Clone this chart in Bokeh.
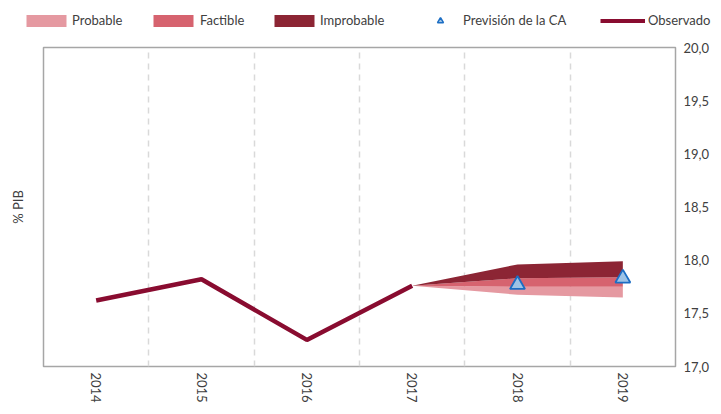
from bokeh.plotting import figure
from bokeh.models import (Legend, LegendItem, LinearAxis, FixedTicker,
                          CustomJSTickFormatter, Range1d)
from bokeh.embed import file_html
from bokeh.resources import INLINE

# ---- data ----
years = [2014, 2015, 2016, 2017, 2018, 2019]
obs_years = [2014, 2015, 2016, 2017]
observed = [17.62, 17.82, 17.25, 17.76]

fan_years = [2017, 2018, 2019]
fan_low = [17.76, 17.675, 17.65]
probable_hi = [17.76, 17.75, 17.75]
factible_hi = [17.76, 17.83, 17.84]
improbable_hi = [17.76, 17.96, 17.99]

ca_years = [2018, 2019]
ca_forecast = [17.77, 17.83]

y_ticks = [17.0, 17.5, 18.0, 18.5, 19.0, 19.5, 20.0]

FONT = "Lato"
TXT = "#404040"
C_PROB, C_FACT, C_IMPR = "#E599A1", "#D6636F", "#8C2534"
C_OBS = "#890C30"
C_TRI_FILL, C_TRI_LINE = "#9DC3E6", "#1C6EC4"

W = 713
LEG_H = 34

# ---------- legend strip (series drawn off-range, only their legend shows) ----------
leg = figure(width=W, height=LEG_H, x_range=Range1d(0, 1), y_range=Range1d(0, 1),
             output_backend="svg", toolbar_location=None,
             x_axis_type=None, y_axis_type=None,
             min_border_left=0, min_border_right=0,
             min_border_top=0, min_border_bottom=0)
leg.outline_line_color = None
leg.background_fill_color = "white"
leg.border_fill_color = "white"

lr_prob = leg.varea(x=fan_years, y1=fan_low, y2=probable_hi, fill_color=C_PROB)
lr_fact = leg.varea(x=fan_years, y1=probable_hi, y2=factible_hi, fill_color=C_FACT)
lr_impr = leg.varea(x=fan_years, y1=factible_hi, y2=improbable_hi, fill_color=C_IMPR)
lr_ca = leg.scatter(x=ca_years, y=ca_forecast, marker="triangle", size=15,
                    fill_color=C_TRI_FILL, line_color=C_TRI_LINE, line_width=1.5)
lr_obs = leg.line(x=obs_years, y=observed, line_color=C_OBS, line_width=4)


def add_item(label, rend, x, gw, standoff):
    lg = Legend(items=[LegendItem(label=label, renderers=[rend])],
                location=(x, 6), orientation="horizontal")
    lg.glyph_width = gw
    lg.glyph_height = 15
    lg.label_standoff = standoff
    lg.padding = 0
    lg.margin = 0
    lg.border_line_color = None
    lg.background_fill_alpha = 0
    lg.label_text_font = FONT
    lg.label_text_font_size = "13px"
    lg.label_text_color = TXT
    leg.add_layout(lg, "center")


add_item("Probable", lr_prob, 21, 50, 1)
add_item("Factible", lr_fact, 148, 50, 2)
add_item("Improbable", lr_impr, 269, 50, 1)
add_item("Previsión de la CA", lr_ca, 430, 20, 13)
add_item("Observado", lr_obs, 600, 45, 3)

# ---------- main chart ----------
p = figure(width=W, height=406 - LEG_H,
           x_range=Range1d(2013.5, 2019.5), y_range=Range1d(17, 20),
           output_backend="svg", toolbar_location=None,
           y_axis_location="right",
           min_border_left=43, min_border_right=38,
           min_border_top=47 - LEG_H, min_border_bottom=40)
p.outline_line_color = "#A6A6A6"
p.outline_line_width = 1.5
p.background_fill_color = "white"
p.border_fill_color = "white"

p.xgrid.ticker = FixedTicker(ticks=[y + 0.5 for y in years[:-1]])
p.xgrid.grid_line_color = "#D9D9D9"
p.xgrid.grid_line_dash = "6 5"
p.xgrid.grid_line_width = 1.5
p.ygrid.visible = False

xa = p.xaxis[0]
xa.ticker = FixedTicker(ticks=years)
xa.major_label_orientation = "vertical"
xa.axis_line_color = None
xa.major_tick_line_color = None
xa.minor_tick_line_color = None
xa.major_label_standoff = 0
xa.major_label_text_font = FONT
xa.major_label_text_font_size = "13px"
xa.major_label_text_color = TXT

ya = p.yaxis[0]
ya.ticker = FixedTicker(ticks=y_ticks)
ya.formatter = CustomJSTickFormatter(code="return tick.toFixed(1).replace('.', ',');")
ya.axis_line_color = None
ya.major_tick_line_color = None
ya.minor_tick_line_color = None
ya.major_label_standoff = 2
ya.major_label_text_font = FONT
ya.major_label_text_font_size = "13px"
ya.major_label_text_color = TXT

la = LinearAxis(axis_label="% PIB", ticker=FixedTicker(ticks=[]))
la.axis_line_color = None
la.major_tick_line_color = None
la.minor_tick_line_color = None
la.major_label_text_font_size = "0px"
la.major_label_standoff = 0
la.axis_label_standoff = 18
la.axis_label_text_font = FONT
la.axis_label_text_font_size = "13px"
la.axis_label_text_font_style = "normal"
la.axis_label_text_color = TXT
p.add_layout(la, "left")

p.varea(x=fan_years, y1=fan_low, y2=probable_hi, fill_color=C_PROB)
p.varea(x=fan_years, y1=probable_hi, y2=factible_hi, fill_color=C_FACT)
p.varea(x=fan_years, y1=factible_hi, y2=improbable_hi, fill_color=C_IMPR)

p.line(obs_years, observed, line_color=C_OBS, line_width=4.5)

p.scatter(ca_years, ca_forecast, marker="triangle", size=15,
          fill_color=C_TRI_FILL, line_color=C_TRI_LINE, line_width=1.8)

# two independent roots, stacked: legend strip, then chart
open("out.html", "w").write(file_html([leg, p], INLINE))
